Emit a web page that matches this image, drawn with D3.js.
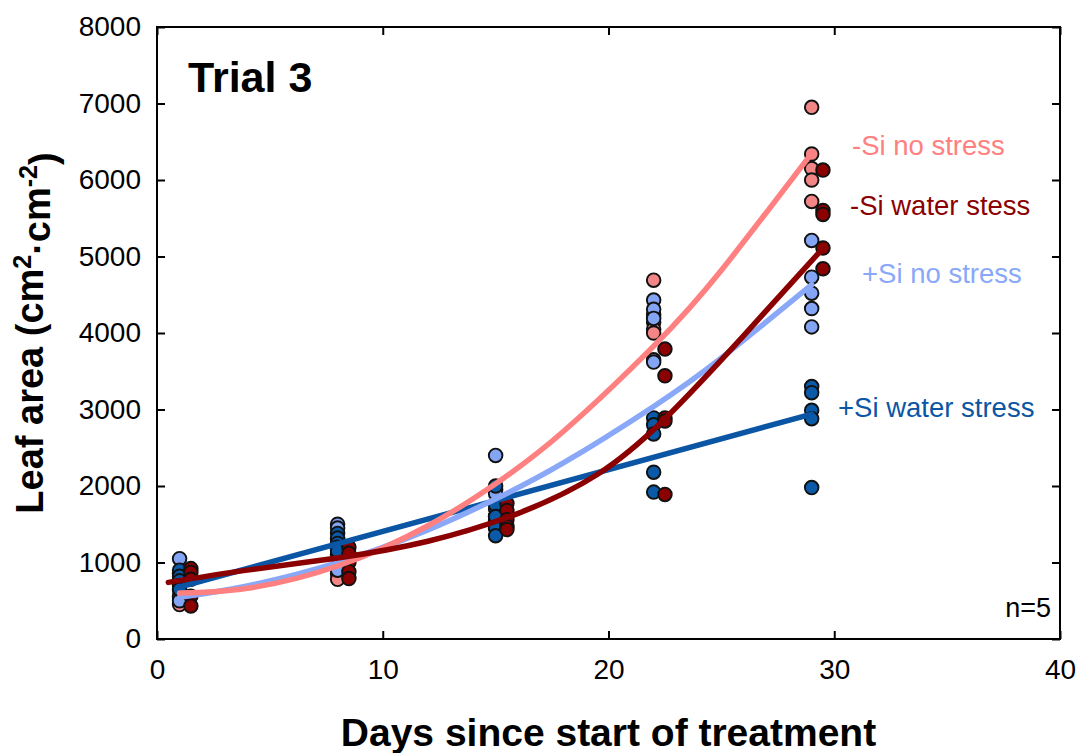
<!DOCTYPE html>
<html>
<head>
<meta charset="utf-8">
<script src="https://cdn.jsdelivr.net/npm/d3@7"></script>
<style>
  html, body { margin: 0; padding: 0; background: #fff; }
  svg { display: block; font-family: "Liberation Sans", Arial, sans-serif; }
</style>
</head>
<body>
<svg id="chart" width="1081" height="753"></svg>
<script>
// Sampling days and per-day leaf area measurements (cm2·cm-2), five plants each
const sampleDays = [1, 8, 15, 22, 29];

const siMinusNoStress = [
  [860, 760, 640, 550, 450],
  [1170, 1100, 950, 850, 780],
  [1950, 1600, 1550, 1500, 1450],
  [4690, 4240, 4140, 4050, 4000],
  [6950, 6340, 6150, 6000, 5720]
];
const siMinusWaterStress = [
  [920, 870, 780, 560, 430],
  [1200, 1120, 1000, 880, 790],
  [1770, 1680, 1560, 1470, 1430],
  [3790, 3440, 2890, 2850, 1890],
  [6130, 5600, 5550, 5110, 4840]
];
const siPlusNoStress = [
  [1050, 860, 720, 560, 500],
  [1500, 1450, 1300, 1100, 900],
  [2400, 1900, 1700, 1600, 1500],
  [4430, 4310, 4190, 3650, 3620],
  [5210, 4730, 4520, 4320, 4080]
];
const siPlusWaterStress = [
  [900, 820, 760, 700, 650],
  [1380, 1320, 1250, 1200, 1150],
  [2000, 1750, 1600, 1450, 1350],
  [2890, 2800, 2680, 2180, 1920],
  [3300, 3220, 2990, 2880, 1980]
];
// day offset used to keep the -Si water stress points beside the others
const dayShift = [0, 0.5, 0, 0];

// Fitted regression curves
const fitDays = [1, 4, 8, 12, 15, 18, 22, 25, 29];
const fitSiMinusNoStress = [600, 663, 954, 1480, 2030, 2713, 3828, 4820, 6350];
const fitSiPlusNoStress = [545, 693, 997, 1426, 1830, 2301, 3040, 3674, 4630];
const fitDaysWater = [0.5, 4, 8, 12, 16, 19.5, 22.5, 26, 29.6];
const fitSiMinusWaterStress = [740, 900, 1060, 1278, 1643, 2150, 2880, 3970, 5140];
const fitDaysLinear = [1, 29];
const fitSiPlusWaterStress = [680, 2940];

const seriesNames = ["-Si no stress", "-Si water stess", "+Si no stress", "+Si water stress"];
const xTicks = [0, 10, 20, 30, 40];
const yTicks = [0, 1000, 2000, 3000, 4000, 5000, 6000, 7000, 8000];

const lineColors = ["#FF8080", "#8B0000", "#8AA8F8", "#0B56A4"];
const pointColors = ["#F28585", "#8B0000", "#84A4F4", "#0B5AA8"];

const svg = d3.select("#chart");
const plotL = 157, plotR = 1060, plotT = 27, plotB = 639;

const x = d3.scaleLinear().domain([0, 40]).range([plotL, plotR]);
const y = d3.scaleLinear().domain([0, 8000]).range([plotB, plotT]);

// frame
svg.append("rect")
  .attr("x", plotL).attr("y", plotT)
  .attr("width", plotR - plotL).attr("height", plotB - plotT)
  .attr("fill", "none").attr("stroke", "#000").attr("stroke-width", 2);

// axes with inward ticks on all four sides
const tickLen = 8;
const fmt = d3.format("d");
const axisB = svg.append("g").attr("transform", `translate(0,${plotB})`)
  .call(d3.axisBottom(x).tickValues(xTicks).tickFormat(fmt).tickSizeInner(-tickLen).tickSizeOuter(0).tickPadding(20));
const axisL = svg.append("g").attr("transform", `translate(${plotL},0)`)
  .call(d3.axisLeft(y).tickValues(yTicks).tickFormat(fmt).tickSizeInner(-tickLen).tickSizeOuter(0).tickPadding(16));
const axisT = svg.append("g").attr("transform", `translate(0,${plotT})`)
  .call(d3.axisTop(x).tickValues(xTicks).tickSizeInner(-tickLen).tickSizeOuter(0).tickFormat(""));
const axisR = svg.append("g").attr("transform", `translate(${plotR},0)`)
  .call(d3.axisRight(y).tickValues(yTicks).tickSizeInner(-tickLen).tickSizeOuter(0).tickFormat(""));
[axisB, axisL, axisT, axisR].forEach(g => {
  g.select(".domain").remove();
  g.selectAll(".tick line").attr("stroke", "#000").attr("stroke-width", 2);
  g.selectAll(".tick text")
    .attr("fill", "#000")
    .style("font-family", "'Liberation Sans', Arial, sans-serif")
    .style("font-size", "28px");
});
axisB.selectAll(".tick text").attr("dy", "0.71em");

// scatter points
const pointSets = [siMinusNoStress, siMinusWaterStress, siPlusNoStress, siPlusWaterStress];
const drawOrder = [0, 2, 3, 1];
const pts = svg.append("g");
drawOrder.forEach(s => {
  const flat = [];
  pointSets[s].forEach((vals, i) => vals.forEach(v => flat.push({ d: sampleDays[i] + dayShift[s], v })));
  pts.selectAll(null).data(flat).enter().append("circle")
    .attr("cx", p => x(p.d))
    .attr("cy", p => y(p.v))
    .attr("r", 6.8)
    .attr("fill", pointColors[s])
    .attr("stroke", "#111")
    .attr("stroke-width", 1.9);
});

// fitted curves drawn over the points
const fits = [
  { days: fitDays, vals: fitSiMinusNoStress, c: 0 },
  { days: fitDaysWater, vals: fitSiMinusWaterStress, c: 1 },
  { days: fitDays, vals: fitSiPlusNoStress, c: 2 },
  { days: fitDaysLinear, vals: fitSiPlusWaterStress, c: 3 }
];
const line = d3.line().x(p => x(p[0])).y(p => y(p[1])).curve(d3.curveNatural);
[3, 2, 0, 1].forEach(k => {
  const f = fits[k];
  svg.append("path")
    .attr("d", line(f.days.map((d, i) => [d, f.vals[i]])))
    .attr("fill", "none")
    .attr("stroke", lineColors[f.c])
    .attr("stroke-width", 5.5)
    .attr("stroke-linecap", "round");
});

// series labels
const labelPos = [[852, 155], [850, 215], [862, 283], [838, 417]];
seriesNames.forEach((n, i) => {
  svg.append("text")
    .attr("x", labelPos[i][0]).attr("y", labelPos[i][1])
    .attr("fill", lineColors[i])
    .style("font-size", "27.5px")
    .text(n);
});

// panel annotations
svg.append("text").attr("x", 188).attr("y", 92)
  .style("font-size", "43px").style("font-weight", "bold").text("Trial 3");
svg.append("text").attr("x", 1051).attr("y", 617).attr("text-anchor", "end")
  .style("font-size", "27px").text("n=5");

// axis titles
svg.append("text").attr("x", (plotL + plotR) / 2).attr("y", 746).attr("text-anchor", "middle")
  .style("font-size", "39px").style("font-weight", "bold")
  .text("Days since start of treatment");

const yt = svg.append("text")
  .attr("transform", `translate(43,333) rotate(-90)`)
  .attr("text-anchor", "middle")
  .style("font-size", "38px").style("font-weight", "bold");
yt.append("tspan").text("Leaf area (cm");
yt.append("tspan").attr("dy", "-0.5em").style("font-size", "25px").text("2");
yt.append("tspan").attr("dy", "0.5em").text("·cm");
yt.append("tspan").attr("dy", "-0.5em").style("font-size", "25px").text("-2");
yt.append("tspan").attr("dy", "0.5em").text(")");
</script>
</body>
</html>
